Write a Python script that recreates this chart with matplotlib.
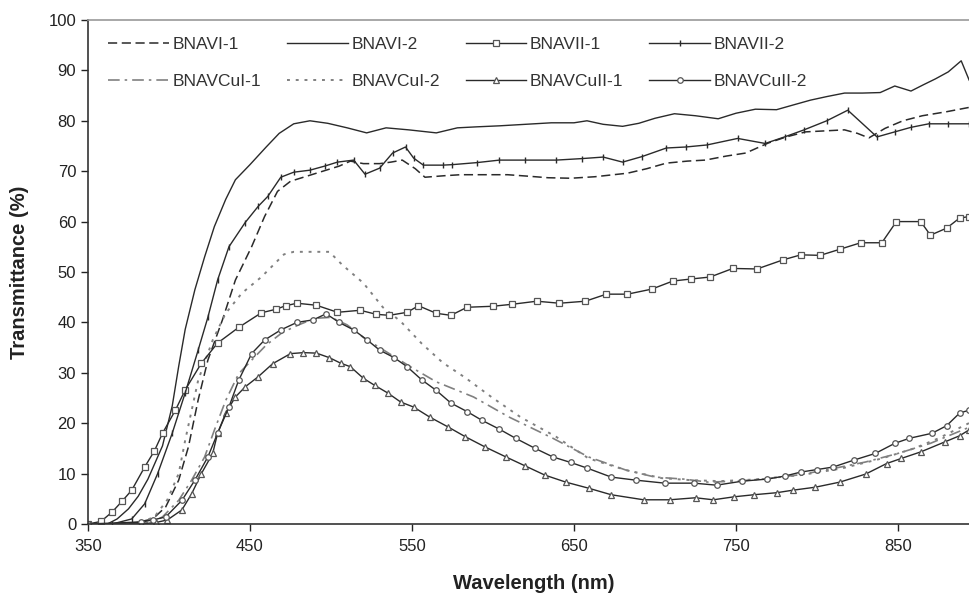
#!/usr/bin/env python

#===========================================================================
#
# Plot transmittance spectra of the BNAV films
#
#===========================================================================

import numpy as np
import matplotlib
matplotlib.use('Agg')
import matplotlib.pyplot as plt

########################################################################
# Data

# BNAVI-1 (dashed)
wlI1 = [350, 365, 380, 390, 398, 406, 412, 418, 424, 433, 441, 451, 459, 467,
        475, 483, 495, 505, 512, 520, 530, 537, 544, 552, 558, 570, 580, 595,
        609, 622, 634, 648, 663, 683, 695, 707, 720, 731, 744, 756, 770, 781,
        793, 805, 817, 825, 832, 842, 853, 865, 880, 893, 900]
tI1 = [0, 0, 0.3, 1, 3.4, 8.7, 15.3, 24.6, 32.5, 40.5, 48.4, 55, 61, 66,
       68, 68.8, 70, 71, 72, 71.5, 71.5, 71.8, 72.2, 70.5, 68.8, 69.1, 69.3, 69.3,
       69.3, 69, 68.7, 68.6, 68.9, 69.6, 70.5, 71.6, 72, 72.2, 73, 73.6, 75.6, 76.8,
       77.8, 78, 78.2, 77.5, 76.6, 78.5, 80, 81, 81.8, 82.6, 83]

# BNAVI-2 (solid)
wlI2 = [350, 362, 368, 375, 381, 387, 396, 402, 406, 410, 416, 422, 428, 435,
        441, 450, 460, 468, 477, 487, 498, 510, 522, 534, 548, 565, 578, 590,
        604, 620, 636, 650, 658, 668, 680, 690, 700, 712, 725, 739, 750, 762,
        775, 786, 796, 806, 817, 828, 839, 848, 858, 866, 873, 881, 889, 894, 900]
tI2 = [0, 0, 1, 3, 5.5, 8.9, 15.5, 23.4, 31.3, 38.6, 46.5, 53, 59, 64.4,
       68.3, 71.3, 74.8, 77.5, 79.4, 80, 79.5, 78.6, 77.6, 78.6, 78.2, 77.6, 78.6, 78.8,
       79, 79.3, 79.6, 79.6, 80, 79.3, 78.9, 79.5, 80.5, 81.4, 81, 80.4, 81.5, 82.3,
       82.2, 83.2, 84.1, 84.8, 85.5, 85.5, 85.6, 86.9, 85.9, 87.2, 88.3, 89.7, 91.9, 88, 86]

# BNAVII-1 (squares)
wlII1 = [350, 358, 365, 371, 377, 385, 391, 396, 404, 410, 420, 430, 443, 457,
         466, 472, 479, 491, 504, 518, 528, 536, 547, 554, 565, 574, 584, 600,
         612, 627, 641, 657, 670, 683, 698, 711, 722, 734, 748, 763, 779, 790,
         802, 814, 827, 840, 849, 864, 870, 880, 888, 894, 900]
tII1 = [0, 0.5, 2.4, 4.5, 6.7, 11.3, 14.5, 18, 22.6, 26.6, 31.9, 35.9, 39, 41.9,
        42.6, 43.3, 43.8, 43.4, 42, 42.4, 41.6, 41.4, 42, 43.3, 41.8, 41.4, 43, 43.2,
        43.6, 44.2, 43.8, 44.2, 45.6, 45.6, 46.6, 48.2, 48.6, 49, 50.7, 50.6, 52.4, 53.4,
        53.3, 54.5, 55.8, 55.8, 60, 60, 57.3, 58.7, 60.7, 61, 60.5]

# BNAVII-2 (ticks)
wlII2 = [350, 365, 377, 385, 393, 402, 410, 418, 424, 430, 437, 447, 455, 461,
         469, 477, 487, 496, 504, 514, 521, 530, 538, 546, 551, 557, 569, 575,
         590, 604, 620, 639, 655, 668, 680, 692, 707, 719, 732, 751, 768, 780,
         792, 806, 819, 837, 848, 858, 869, 881, 894, 900]
tII2 = [0, 0, 1, 4, 10, 18, 26, 34.5, 41, 48.4, 55, 59.8, 63, 65,
        68.8, 69.8, 70.2, 71, 71.8, 72.2, 69.4, 70.6, 73.6, 74.8, 72.6, 71.2, 71.2, 71.3,
        71.7, 72.2, 72.2, 72.2, 72.5, 72.8, 71.8, 72.9, 74.6, 74.8, 75.2, 76.5, 75.5, 76.8,
        78.2, 80, 82.1, 76.8, 77.8, 78.7, 79.4, 79.4, 79.4, 79.4]

# BNAVCuI-1 (dash-dot)
wlCuI1 = [350, 380, 390, 396, 406, 414, 422, 428, 435, 443, 451, 460, 470,
          480, 490, 500, 510, 520, 535, 549, 565, 588, 610, 637, 659, 682,
          700, 718, 733, 750, 770, 790, 810, 830, 850, 870, 885, 900]
tCuI1 = [0, 0, 0.5, 1.4, 4.7, 8.7, 13.3, 18.6, 24.5, 29.8, 32.5, 35.5, 38,
         39.5, 40.8, 41, 39.5, 37, 34, 31.2, 28.2, 25.2, 21.2, 17, 13.3, 10.7,
         9.3, 8.9, 8.3, 8.5, 9, 9.8, 11, 12.3, 14, 16, 18, 20]

# BNAVCuI-2 (dotted)
wlCuI2 = [350, 380, 391, 399, 406, 410, 418, 427, 435, 445, 457, 471, 477,
          488, 499, 507, 520, 532, 543, 556, 569, 583, 599, 617, 639, 659,
          682, 704, 722, 740, 760, 790, 815, 840, 860, 875, 900]
tCuI2 = [0, 0, 1.4, 4.8, 10, 16.6, 28.5, 36.5, 41.8, 45.8, 49, 53.5, 54,
         54, 54, 51.4, 47.8, 43, 40.2, 35.8, 32, 29, 25.2, 21.2, 17.3, 13,
         10.7, 9.1, 8.7, 8.5, 8.8, 9.7, 11, 13, 15, 17, 21]

# BNAVCuII-1 (triangles)
wlCuII1 = [350, 383, 392, 399, 408, 414, 420, 427, 430, 435, 441, 447, 455,
           464, 475, 483, 491, 499, 506, 512, 520, 527, 535, 543, 551, 561,
           572, 583, 595, 608, 620, 632, 645, 659, 673, 693, 709, 725, 736,
           749, 761, 775, 785, 799, 814, 830, 843, 852, 864, 879, 888, 894, 900]
tCuII1 = [0, 0, 0.3, 0.8, 2.8, 6, 10, 14, 18, 22, 25.2, 27.2, 29.2,
          31.8, 33.8, 34, 33.9, 33, 31.9, 31.2, 28.9, 27.5, 26, 24.2, 23.2, 21.2,
          19.3, 17.3, 15.3, 13.3, 11.5, 9.7, 8.3, 7.1, 5.8, 4.8, 4.8, 5.2, 4.8,
          5.4, 5.8, 6.2, 6.7, 7.3, 8.3, 9.9, 12, 13, 14.3, 16.3, 17.5, 18.7, 19]

# BNAVCuII-2 (circles)
wlCuII2 = [350, 383, 390, 398, 408, 416, 424, 430, 437, 443, 451, 459, 469,
           479, 489, 497, 505, 514, 522, 530, 539, 547, 556, 565, 574, 584,
           593, 604, 614, 626, 637, 648, 658, 673, 688, 706, 724, 738, 754,
           769, 780, 790, 800, 810, 823, 836, 848, 857, 871, 880, 888, 894, 900]
tCuII2 = [0, 0.4, 0.8, 1.4, 4.7, 8.7, 13.3, 18, 23.2, 28.5, 33.8, 36.5, 38.5,
          40, 40.5, 41.7, 40, 38.5, 36.6, 34.5, 33, 31.2, 28.6, 26.5, 24, 22.3,
          20.6, 18.8, 17, 15, 13.3, 12.2, 11.1, 9.3, 8.7, 8.1, 8.1, 7.7, 8.5,
          8.9, 9.5, 10.3, 10.8, 11.3, 12.7, 14, 16, 17, 18, 19.5, 22, 22.6, 23]

xTicks = [350, 450, 550, 650, 750, 850]
yTicks = [0, 10, 20, 30, 40, 50, 60, 70, 80, 90, 100]

########################################################################
# Plot

def doPlot():

    plt.rcParams['font.family'] = ['Liberation Sans', 'DejaVu Sans']

    fig = plt.figure(figsize=(9.7, 6.02), dpi=100)
    # axes run slightly past the right edge, the original is cropped there
    ax = fig.add_axes([0.0907, 0.1296, 0.9186, 0.8372])

    dark = '#2a2a2a'
    grey = '#808080'
    mk = dict(markersize=4, markerfacecolor='white', markeredgewidth=0.9)

    ax.plot(wlI1, tI1, linestyle=(0, (6, 3)), color=dark, linewidth=1.1,
            label='BNAVI-1')
    ax.plot(wlCuI1, tCuI1, linestyle=(0, (7, 3, 1.5, 3)), color=grey,
            linewidth=1.2, label='BNAVCuI-1')
    ax.plot(wlI2, tI2, linestyle='-', color=dark, linewidth=1.0,
            label='BNAVI-2')
    ax.plot(wlCuI2, tCuI2, linestyle=(0, (1.5, 3)), color=grey,
            linewidth=1.4, label='BNAVCuI-2')
    ax.plot(wlII1, tII1, linestyle='-', color=dark, linewidth=1.0,
            marker='s', markeredgecolor='#555555', label='BNAVII-1', **mk)
    ax.plot(wlCuII1, tCuII1, linestyle='-', color=dark, linewidth=1.0,
            marker='^', markeredgecolor='#555555', label='BNAVCuII-1', **mk)
    ax.plot(wlII2, tII2, linestyle='-', color=dark, linewidth=1.0,
            marker='|', markersize=5, markeredgecolor=dark,
            markeredgewidth=1.0, label='BNAVII-2')
    ax.plot(wlCuII2, tCuII2, linestyle='-', color=dark, linewidth=1.0,
            marker='o', markeredgecolor='#555555', label='BNAVCuII-2', **mk)

    ax.set_xlim(350, 900)
    ax.set_ylim(0, 100)
    ax.set_xticks(xTicks)
    ax.set_yticks(yTicks)
    ax.tick_params(axis='both', direction='out', length=5, width=1,
                   colors='#222222', labelsize=12)
    ax.tick_params(axis='x', pad=6)
    for side in ['left', 'bottom', 'top']:
        ax.spines[side].set_color('#333333')
        ax.spines[side].set_linewidth(1.2)
    ax.spines['top'].set_color('#999999')

    ax.set_xlabel('Wavelength (nm)', fontsize=14.5, fontweight='bold',
                  color='#222222', labelpad=14)
    ax.set_ylabel('Transmittance (%)', fontsize=14.5, fontweight='bold',
                  color='#222222', labelpad=14)

    legend1 = ax.legend(loc='upper left', ncol=4, frameon=False,
                        bbox_to_anchor=(108.0 / 970.0, 1.0 - 37.0 / 602.0),
                        bbox_transform=fig.transFigure,
                        borderpad=0, borderaxespad=0,
                        handlelength=3.5, handletextpad=0.2,
                        columnspacing=1.5, labelspacing=1.25,
                        fontsize=12.5)
    for label in legend1.get_texts():
        label.set_color('#333333')

    fig.savefig('out.png', dpi=100)

########################################################################
# Run - entry point

if __name__ == "__main__":
    doPlot()
